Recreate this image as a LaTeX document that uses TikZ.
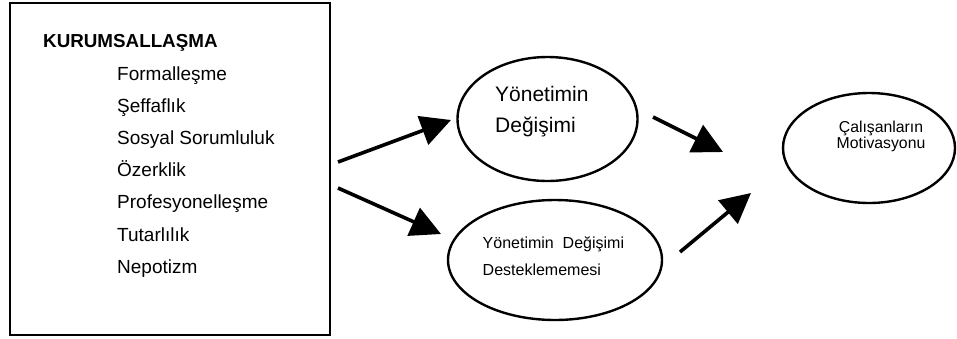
\documentclass[tikz,border=0pt]{standalone}
\usepackage{fontspec}
\setmainfont{Liberation Sans}
\usetikzlibrary{arrows.meta,shapes.geometric}
\tikzset{
  ell/.style={draw, line width=2.4pt, ellipse, inner sep=0pt},
  txt/.style={anchor=base west, inner sep=0pt},
  bigarrow/.style={line width=3.6pt, -{Triangle[length=30pt,width=30pt]}},
}
\begin{document}
\begin{tikzpicture}[x=1pt,y=-1pt]
\useasboundingbox (0,0) rectangle (957,338);
% left box
\node[draw, line width=2.4pt, minimum width=320pt, minimum height=332pt, inner sep=0pt] (box) at (170,169) {};
\node[txt, font=\fontsize{18.8}{20}\selectfont\bfseries] (k) at (43,47) {KURUMSALLAŞMA};
\node[txt, font=\fontsize{19}{20}\selectfont] (i1) at (117,80) {Formalleşme};
\node[txt, font=\fontsize{19}{20}\selectfont] (i2) at (117,112.2) {Şeffaflık};
\node[txt, font=\fontsize{19}{20}\selectfont] (i3) at (117,144.4) {Sosyal Sorumluluk};
\node[txt, font=\fontsize{19}{20}\selectfont] (i4) at (117,176.6) {Özerklik};
\node[txt, font=\fontsize{19}{20}\selectfont] (i5) at (117,208.8) {Profesyonelleşme};
\node[txt, font=\fontsize{19}{20}\selectfont] (i6) at (117,241) {Tutarlılık};
\node[txt, font=\fontsize{19}{20}\selectfont] (i7) at (117,273.2) {Nepotizm};
% ellipses
\node[ell, minimum width=180pt, minimum height=124pt] (e1) at (547.5,119) {};
\node[txt, font=\fontsize{21}{22}\selectfont] (t1a) at (495,101) {Yönetimin};
\node[txt, font=\fontsize{21}{22}\selectfont] (t1b) at (495,132) {Değişimi};
\node[ell, minimum width=214pt, minimum height=120pt] (e2) at (555,260) {};
\node[txt, font=\fontsize{16}{17}\selectfont] (t2a) at (482.5,248) {Yönetimin\ \ Değişimi};
\node[txt, font=\fontsize{16}{17}\selectfont] (t2b) at (482.5,275) {Desteklememesi};
\node[ell, minimum width=172pt, minimum height=110pt] (e3) at (869,148) {};
\node[anchor=base, inner sep=0pt, font=\fontsize{15.8}{16}\selectfont] (t3a) at (881,132) {Çalışanların};
\node[anchor=base, inner sep=0pt, font=\fontsize{15.8}{16}\selectfont] (t3b) at (881,148.5) {Motivasyonu};
% arrows
\coordinate (a1s) at (338,162);
\coordinate (a1e) at (451,120);
\coordinate (a2s) at (338,188);
\coordinate (a2e) at (441,234);
\coordinate (a3s) at (653,117);
\coordinate (a3e) at (723,152);
\coordinate (a4s) at (680,252);
\coordinate (a4e) at (751,193);
\draw[bigarrow] (a1s) -- (a1e);
\draw[bigarrow] (a2s) -- (a2e);
\draw[bigarrow] (a3s) -- (a3e);
\draw[bigarrow] (a4s) -- (a4e);
\end{tikzpicture}
\end{document}
